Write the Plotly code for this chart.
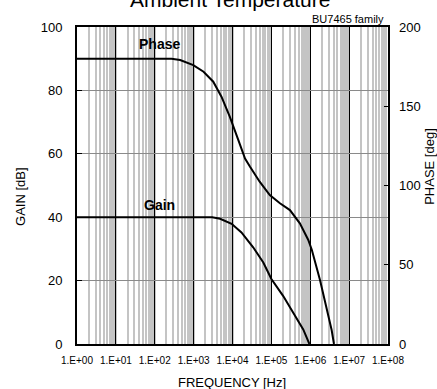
import plotly.graph_objects as go

# ---- data ----
gain_freq = [1, 3000, 4800, 9500, 17000, 34000, 62000, 100000, 200000, 360000, 660000, 950000]
gain_db = [40, 40, 39.5, 37.9, 35.2, 30.5, 25.7, 20.5, 15.2, 9.9, 4.6, 0]

phase_freq = [1, 270, 450, 980, 1800, 3200, 5200, 8500, 14000, 21000, 28000, 50000, 91000,
              166000, 300000, 540000, 890000, 1100000, 1780000, 2630000, 3550000, 4070000]
phase_deg = [180, 180, 179.2, 176, 171.8, 165.5, 156, 143.4, 129, 117, 112, 102.4, 94,
             88.8, 84.5, 76.1, 65.6, 59.3, 40.4, 23.6, 8.8, 0]

x_tickvals = [1, 10, 100, 1e3, 1e4, 1e5, 1e6, 1e7, 1e8]
x_ticktext = ["1.E+00", "1.E+01", "1.E+02", "1.E+03", "1.E+04", "1.E+05", "1.E+06", "1.E+07", "1.E+08"]
gain_ticks = [0, 20, 40, 60, 80, 100]
phase_ticks = [0, 50, 100, 150, 200]

FONT = "Liberation Sans, Arial, sans-serif"

fig = go.Figure()
fig.add_trace(go.Scatter(x=gain_freq, y=gain_db, mode="lines",
                         line=dict(color="black", width=2), name="Gain", yaxis="y"))
fig.add_trace(go.Scatter(x=phase_freq, y=phase_deg, mode="lines",
                         line=dict(color="black", width=2), name="Phase", yaxis="y2"))

fig.update_layout(
    width=437, height=389,
    margin=dict(l=77, r=49, t=27, b=45),
    paper_bgcolor="white", plot_bgcolor="white",
    showlegend=False,
    font=dict(family=FONT, color="black"),
    xaxis=dict(type="log", range=[0, 8], tickvals=x_tickvals, ticktext=x_ticktext,
               tickfont=dict(size=10), showgrid=True, gridcolor="black", gridwidth=1,
               minor=dict(dtick="D1", showgrid=True, gridcolor="#c4c4c4", gridwidth=2, ticks=""),
               showline=True, linecolor="black", linewidth=2, mirror=True,
               ticks="", ticklabelstandoff=6, zeroline=False),
    yaxis=dict(range=[0, 100], tickvals=gain_ticks, tickfont=dict(size=13),
               showgrid=True, gridcolor="#8a8a8a", gridwidth=1,
               showline=True, linecolor="black", linewidth=2, mirror=True,
               ticks="inside", ticklen=5, tickcolor="black", ticklabelstandoff=10,
               zeroline=False),
    yaxis2=dict(range=[0, 200], tickvals=phase_ticks, tickfont=dict(size=13),
                overlaying="y", side="right", showgrid=False,
                ticks="inside", ticklen=4, tickcolor="black", ticklabelstandoff=10,
                zeroline=False),
    annotations=[
        dict(text="Ambient Temperature", xref="paper", yref="paper", x=0.492, y=1.088,
             xanchor="center", yanchor="middle", showarrow=False, font=dict(size=21)),
        dict(text="BU7465 family", xref="paper", yref="paper", x=0.994, y=1.0,
             xanchor="right", yanchor="bottom", showarrow=False, font=dict(size=11)),
        dict(text="GAIN [dB]", xref="paper", yref="paper", x=-0.18, y=0.464, textangle=-90,
             xanchor="center", yanchor="middle", showarrow=False, font=dict(size=13)),
        dict(text="PHASE [deg]", xref="paper", yref="paper", x=1.133, y=0.56, textangle=-90,
             xanchor="center", yanchor="middle", showarrow=False, font=dict(size=13)),
        dict(text="FREQUENCY [Hz]", xref="paper", yref="paper", x=0.498, y=-0.123,
             xanchor="center", yanchor="middle", showarrow=False, font=dict(size=13)),
        dict(text="<b>Phase</b>", xref="x", yref="y", x=2.13, y=94.6,
             xanchor="center", yanchor="middle", showarrow=False, font=dict(size=14)),
        dict(text="<b>Gain</b>", xref="x", yref="y", x=2.13, y=44,
             xanchor="center", yanchor="middle", showarrow=False, font=dict(size=14)),
    ],
)

fig.write_html("out.html", config={"displayModeBar": False},
               post_script="document.body.style.margin='0px';")
